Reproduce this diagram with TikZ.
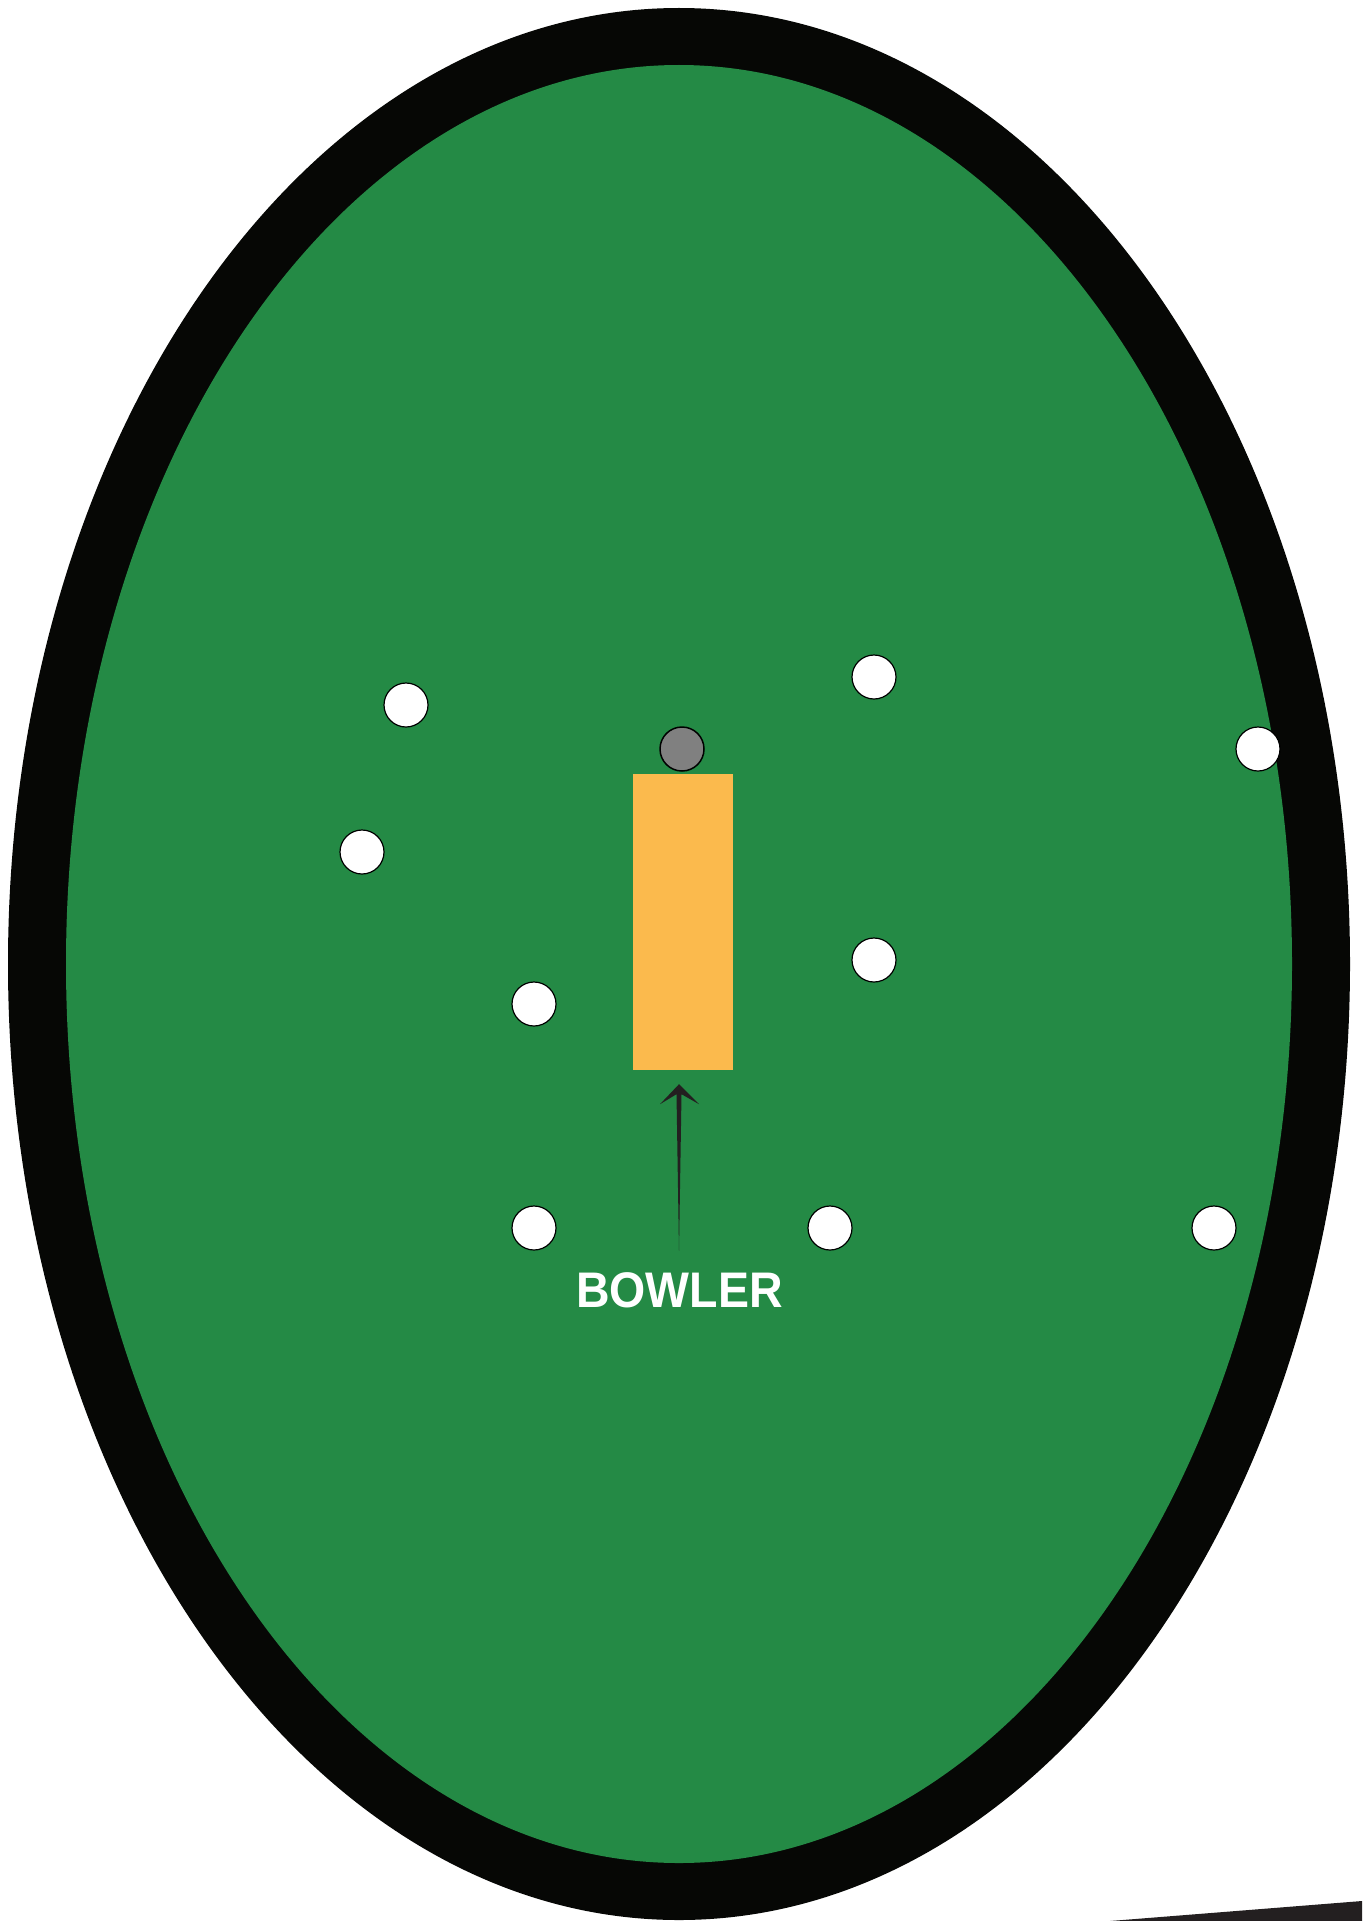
\documentclass[tikz,border=0pt]{standalone}
\usepackage{fontspec}
\setmainfont{Liberation Sans}
\usetikzlibrary{positioning, calc}
\definecolor{field_green}{HTML}{248A45}
\definecolor{rope_black}{HTML}{060705}
\definecolor{pitch_yellow}{HTML}{FBBA4D}
\definecolor{arrow_black}{HTML}{231F20}
\tikzset{
  fielder/.style={circle, draw=black, fill=white, line width=1.2pt, minimum size=44pt, inner sep=0pt},
  batter/.style={circle, draw=black, fill=gray, line width=1.5pt, minimum size=44pt, inner sep=0pt},
  pitch_box/.style={rectangle, fill=pitch_yellow, minimum width=100pt, minimum height=296pt, inner sep=0pt},
  bowler_label/.style={text=white, font=\fontsize{50}{60}\selectfont\bfseries, inner sep=0pt}
}
\begin{document}
\begin{tikzpicture}[x=1pt, y=-1pt]
\useasboundingbox (0,0) rectangle (1362,1921);
\fill[white] (0,0) rectangle (1362,1921);

% Ground
\fill[rope_black] (679,964) ellipse [x radius=671pt, y radius=956pt];
\fill[field_green] (679,964) ellipse [x radius=613pt, y radius=899pt];
\fill[arrow_black] (1110,1921) -- (1362,1901) -- (1362,1921) -- cycle;

% Pitch and batter
\node (pitch) [pitch_box] at (683,922) {};
\node (striker) [batter] at (682,749) {};

% Fielders
\foreach \n/\x/\y in {1/406/705, 2/362/852, 3/534/1004, 4/534/1228, 5/874/677,
                       6/1258/749, 7/874/960, 8/830/1228, 9/1214/1228} {
    \node (fld\n) [fielder] at (\x,\y) {};
}

\node (bowler) [bowler_label, anchor=base] at (679.5,1307) {\scalebox{0.93}[1]{BOWLER}};

% Run-up arrow
\coordinate (runup) at ($(bowler.north)+(-0.5,-21)$);
\coordinate (tip) at ($(pitch.south)+(-4,14)$);
\fill[arrow_black] (tip) -- ++(20,20) -- ++(-17.5,-10) -- (runup)
    -- ($(tip)+(-2.5,10)$) -- ++(-16.5,10) -- cycle;
\end{tikzpicture}
\end{document}
